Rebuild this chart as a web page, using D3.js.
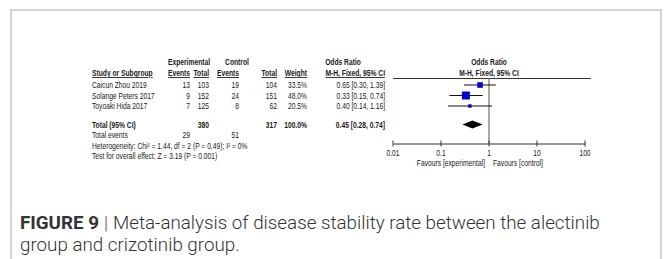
<!DOCTYPE html>
<html>
<head>
<meta charset="utf-8">
<script src="https://cdn.jsdelivr.net/npm/d3@7"></script>
<style>
  body { margin: 0; background: #fff; }
  svg { display: block; }
</style>
</head>
<body>
<svg id="chart"></svg>
<script>
// study rows
const studies = ["Caicun Zhou 2019", "Solange Peters 2017", "Toyoaki Hida 2017"];
const expEvents = [13, 9, 7];
const expTotal = [103, 152, 125];
const ctrlEvents = [19, 24, 8];
const ctrlTotal = [104, 151, 62];
const weights = [33.5, 48.0, 20.5];
const orValue = [0.65, 0.33, 0.40];
const orLow = [0.30, 0.15, 0.14];
const orHigh = [1.39, 0.74, 1.16];

// pooled
const pooled = { expTotal: 380, ctrlTotal: 317, weight: 100.0, or: 0.45, low: 0.28, high: 0.74 };
const totalEvents = [29, 51];
const footLines = [
  "Heterogeneity: Chi\u00b2 = 1.44, df = 2 (P = 0.49); I\u00b2 = 0%",
  "Test for overall effect: Z = 3.19 (P = 0.001)"
];
const axisTicks = [0.01, 0.1, 1, 10, 100];
const favours = ["Favours [experimental]", "Favours [control]"];

const W = 664, H = 259;
const svg = d3.select("#chart").attr("width", W).attr("height", H);

// frame
svg.append("rect")
  .attr("x", 11).attr("y", 10).attr("width", 650).attr("height", 270)
  .attr("fill", "none").attr("stroke", "#d4d4d4").attr("stroke-width", 2);

const fontSize = 8.6;
const sx = 0.78;
const txt = (x, y, s, anchor, bold, underline) => {
  const t = svg.append("text")
    .attr("transform", `translate(${x},${y}) scale(${sx},1)`)
    .attr("font-family", "Liberation Sans, Arial, sans-serif")
    .attr("font-size", fontSize)
    .attr("fill", "#1a1a1a")
    .attr("text-anchor", anchor || "start")
    .text(s);
  if (bold) t.attr("font-weight", "bold");
  if (underline) t.attr("text-decoration", "underline");
  return t;
};

// table columns
const col = { study: 92, ee: 190, et: 209, ce: 239, ct: 277, w: 307, or: 385 };
const rowY = d3.scaleLinear().domain([0, 1]).range([88, 98.5]);
const yTotal = 127.5, yEvents = 138;

// headers
txt(189, 65, "Experimental", "middle", true);
txt(237, 65, "Control", "middle", true);
txt(343, 65, "Odds Ratio", "middle", true);
txt(col.study, 76, "Study or Subgroup", "start", true, true);
txt(col.ee, 76, "Events", "end", true, true);
txt(col.et, 76, "Total", "end", true, true);
txt(col.ce, 76, "Events", "end", true, true);
txt(col.ct, 76, "Total", "end", true, true);
txt(col.w, 76, "Weight", "end", true, true);
txt(col.or, 76, "M-H, Fixed, 95% CI", "end", true, true);

const f2 = d3.format(".2f"), f1 = d3.format(".1f");
studies.forEach((s, i) => {
  const y = rowY(i);
  txt(col.study, y, s);
  txt(col.ee, y, expEvents[i], "end");
  txt(col.et, y, expTotal[i], "end");
  txt(col.ce, y, ctrlEvents[i], "end");
  txt(col.ct, y, ctrlTotal[i], "end");
  txt(col.w, y, f1(weights[i]) + "%", "end");
  txt(col.or, y, `${f2(orValue[i])} [${f2(orLow[i])}, ${f2(orHigh[i])}]`, "end");
});

txt(col.study, yTotal, "Total (95% CI)", "start", true);
txt(col.et, yTotal, pooled.expTotal, "end", true);
txt(col.ct, yTotal, pooled.ctrlTotal, "end", true);
txt(col.w, yTotal, f1(pooled.weight) + "%", "end", true);
txt(col.or, yTotal, `${f2(pooled.or)} [${f2(pooled.low)}, ${f2(pooled.high)}]`, "end", true);

txt(col.study, yEvents, "Total events");
txt(col.ee, yEvents, totalEvents[0], "end");
txt(col.ce, yEvents, totalEvents[1], "end");
footLines.forEach((l, i) => txt(col.study, 148.5 + i * 10.5, l));

// forest plot
const x = d3.scaleLog().domain([0.01, 100]).range([393, 585]);
const axisY = 143.5;
const sq = d3.scaleLinear().domain([0, 48]).range([0, 8]);

txt(489, 65, "Odds Ratio", "middle", true);
txt(489, 76, "M-H, Fixed, 95% CI", "middle", true);
svg.append("line").attr("x1", 393).attr("x2", 591).attr("y1", 78.5).attr("y2", 78.5)
  .attr("stroke", "#333").attr("stroke-width", 1);

svg.append("line").attr("x1", x(1)).attr("x2", x(1)).attr("y1", 78).attr("y2", axisY)
  .attr("stroke", "#555").attr("stroke-width", 1);

studies.forEach((s, i) => {
  const y = rowY(i) - 3;
  svg.append("line").attr("x1", x(orLow[i])).attr("x2", x(orHigh[i]))
    .attr("y1", y).attr("y2", y).attr("stroke", "#111").attr("stroke-width", 1);
  const a = sq(weights[i]);
  svg.append("rect").attr("x", x(orValue[i]) - a / 2).attr("y", y - a / 2)
    .attr("width", a).attr("height", a).attr("fill", "#0000cc");
});

const dy = yTotal - 3;
svg.append("path")
  .attr("d", `M${x(pooled.low)},${dy} L${x(pooled.or)},${dy - 4} L${x(pooled.high)},${dy} L${x(pooled.or)},${dy + 4} Z`)
  .attr("fill", "#000");

const axis = d3.axisBottom(x).tickValues(axisTicks).tickSize(0).tickFormat(d => d);
const ag = svg.append("g").attr("transform", `translate(0,${axisY})`).call(axis);
ag.select(".domain").attr("stroke", "#333");
ag.selectAll(".tick text").remove();
axisTicks.forEach(t => {
  svg.append("line").attr("x1", x(t)).attr("x2", x(t)).attr("y1", axisY - 3).attr("y2", axisY + 3)
    .attr("stroke", "#333");
  txt(x(t), axisY + 12, t, "middle");
});
txt(x(1) - 4, axisY + 22, favours[0], "end");
txt(x(1) + 4, axisY + 22, favours[1], "start");

// caption
const cap = svg.append("text")
  .attr("x", 20).attr("y", 229)
  .attr("font-family", "Roboto, Liberation Sans, Arial, sans-serif")
  .attr("font-size", 18.8)
  .attr("fill", "#333");
cap.append("tspan").attr("font-weight", "bold").text("FIGURE 9");
cap.append("tspan").attr("fill", "#888").text(" | ");
cap.append("tspan").attr("font-weight", 300).text("Meta-analysis of disease stability rate between the alectinib");
svg.append("text")
  .attr("x", 20).attr("y", 251)
  .attr("font-family", "Roboto, Liberation Sans, Arial, sans-serif")
  .attr("font-size", 18.8).attr("font-weight", 300)
  .attr("fill", "#333")
  .text("group and crizotinib group.");
</script>
</body>
</html>
